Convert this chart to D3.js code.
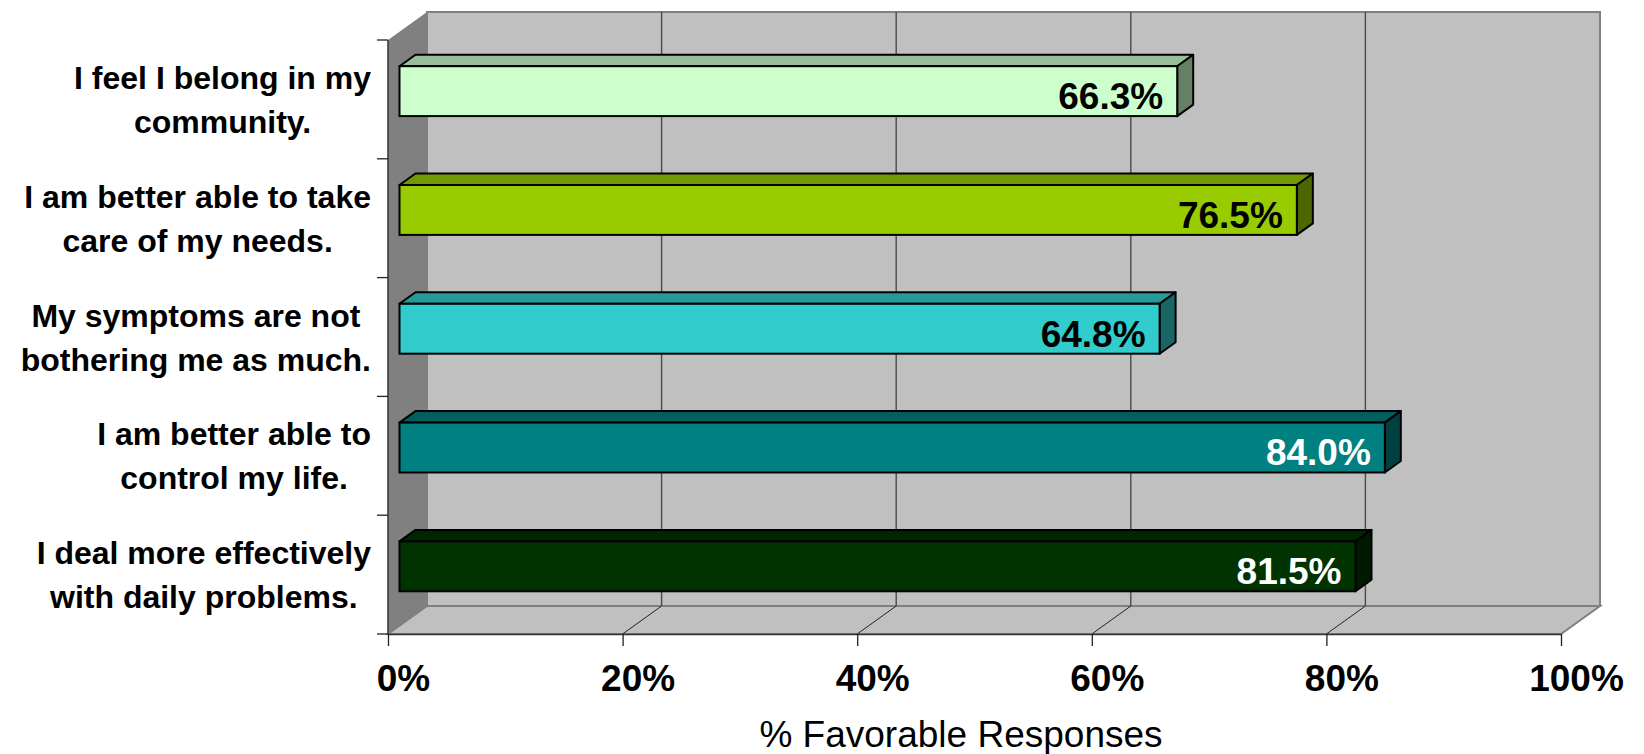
<!DOCTYPE html>
<html>
<head>
<meta charset="utf-8">
<script src="https://cdn.jsdelivr.net/npm/d3@7"></script>
<style>
  html, body { margin: 0; padding: 0; background: #ffffff; }
  svg { display: block; }
  text { font-family: "Liberation Sans", Arial, sans-serif; }
</style>
</head>
<body>
<svg id="chart" width="1644" height="754"></svg>
<script>
// Survey outcome statements (line breaks mark where the label wraps)
const categories = [
  "I feel I belong in my\ncommunity.",
  "I am better able to take\ncare of my needs.",
  "My symptoms are not\nbothering me as much.",
  "I am better able to\ncontrol my life.",
  "I deal more effectively\nwith daily problems."
];
// Share of favorable responses per statement
const values = [0.663, 0.765, 0.648, 0.840, 0.815];
const barColors = ["#CCFFCC", "#99CC00", "#33CCCC", "#008080", "#003300"];
const tickValues = [0, 0.2, 0.4, 0.6, 0.8, 1.0];
const axisTitle = "% Favorable Responses";

const svg = d3.select("#chart");

// Front plane of the 3-D plot box and its depth offset
const plot = { left: 388, right: 1561, top: 40, bottom: 634 };
const depth = { dx: 39, dy: -28 };
const barDepthStart = 0.295, barDepthEnd = 0.705;
const barFraction = 0.42;

const x = d3.scaleLinear().domain([0, 1]).range([plot.left, plot.right]);
const y = d3.scaleBand().domain(categories).range([plot.top, plot.bottom]).padding(0);

const shade = (c, k) => {
  const r = d3.rgb(c);
  return d3.rgb(r.r * k, r.g * k, r.b * k).formatHex();
};
const poly = pts => "M" + pts.map(p => p.join(",")).join("L") + "Z";

// Back wall
svg.append("rect")
  .attr("x", x(0) + depth.dx).attr("y", plot.top + depth.dy)
  .attr("width", x(1) - x(0)).attr("height", plot.bottom - plot.top)
  .attr("fill", "#C0C0C0").attr("stroke", "#808080").attr("stroke-width", 2);

// Side wall
svg.append("path")
  .attr("d", poly([
    [x(0), plot.top], [x(0) + depth.dx, plot.top + depth.dy],
    [x(0) + depth.dx, plot.bottom + depth.dy], [x(0), plot.bottom]
  ]))
  .attr("fill", "#808080");

// Floor
svg.append("path")
  .attr("d", poly([
    [x(0), plot.bottom], [x(0) + depth.dx, plot.bottom + depth.dy],
    [x(1) + depth.dx, plot.bottom + depth.dy], [x(1), plot.bottom]
  ]))
  .attr("fill", "#C0C0C0").attr("stroke", "#808080").attr("stroke-width", 2);

// Gridlines on the back wall and across the floor
const inner = tickValues.filter(t => t > 0 && t < 1);
svg.append("g").selectAll("line").data(inner).join("line")
  .attr("x1", d => x(d) + depth.dx).attr("x2", d => x(d) + depth.dx)
  .attr("y1", plot.top + depth.dy).attr("y2", plot.bottom + depth.dy)
  .attr("stroke", "#4a4a4a").attr("stroke-width", 1.4);
svg.append("g").selectAll("line").data(inner).join("line")
  .attr("x1", d => x(d)).attr("x2", d => x(d) + depth.dx)
  .attr("y1", plot.bottom).attr("y2", plot.bottom + depth.dy)
  .attr("stroke", "#222").attr("stroke-width", 1);

// Category axis: line and ticks at band boundaries
svg.append("line")
  .attr("x1", plot.left).attr("x2", plot.left)
  .attr("y1", plot.top).attr("y2", plot.bottom)
  .attr("stroke", "#333").attr("stroke-width", 1.5);
const bounds = categories.map(c => y(c)).concat([plot.bottom]);
svg.append("g").selectAll("line").data(bounds).join("line")
  .attr("x1", plot.left - 11).attr("x2", plot.left)
  .attr("y1", d => d).attr("y2", d => d)
  .attr("stroke", "#222").attr("stroke-width", 1.3);

// Value axis along the front edge of the floor
const xAxis = d3.axisBottom(x)
  .tickValues(tickValues)
  .tickFormat(d3.format(".0%"))
  .tickSize(12)
  .tickSizeOuter(0);
const gx = svg.append("g").attr("transform", `translate(0,${plot.bottom})`).call(xAxis);
gx.select(".domain").attr("stroke", "#333").attr("stroke-width", 1.5);
gx.selectAll(".tick line").attr("stroke", "#222").attr("stroke-width", 1.3);
gx.selectAll(".tick text")
  .attr("x", 15).attr("y", 57).attr("dy", null)
  .attr("font-size", 37).attr("font-weight", "bold")
  .attr("fill", "#000")
  .style("font-family", '"Liberation Sans", Arial, sans-serif');

// Axis title
svg.append("text")
  .attr("x", 961).attr("y", 747)
  .attr("text-anchor", "middle")
  .attr("font-size", 37)
  .attr("fill", "#000")
  .text(axisTitle);

// 3-D bars
const bh = y.bandwidth() * barFraction;
const ox = depth.dx * barDepthStart, oy = depth.dy * barDepthStart;
const bdx = depth.dx * (barDepthEnd - barDepthStart), bdy = depth.dy * (barDepthEnd - barDepthStart);

const bars = svg.append("g").selectAll("g")
  .data(categories.map((c, i) => ({ c, v: values[i], color: barColors[i] })))
  .join("g");

bars.each(function (d) {
  const g = d3.select(this);
  const x0 = x(0) + ox, x1 = x(d.v) + ox;
  const y0 = y(d.c) + (y.bandwidth() - bh) / 2 + oy, y1 = y0 + bh;
  // top face
  g.append("path")
    .attr("d", poly([[x0, y0], [x0 + bdx, y0 + bdy], [x1 + bdx, y0 + bdy], [x1, y0]]))
    .attr("fill", shade(d.color, 0.75)).attr("stroke", "#000").attr("stroke-width", 2)
    .attr("stroke-linejoin", "round");
  // end face
  g.append("path")
    .attr("d", poly([[x1, y0], [x1 + bdx, y0 + bdy], [x1 + bdx, y1 + bdy], [x1, y1]]))
    .attr("fill", shade(d.color, 0.5)).attr("stroke", "#000").attr("stroke-width", 2)
    .attr("stroke-linejoin", "round");
  // front face
  g.append("rect")
    .attr("x", x0).attr("y", y0).attr("width", x1 - x0).attr("height", bh)
    .attr("fill", d.color).attr("stroke", "#000").attr("stroke-width", 2);
  // value label
  g.append("text")
    .attr("x", x1 - 14).attr("y", y1 - 7)
    .attr("text-anchor", "end")
    .attr("font-size", 37).attr("font-weight", "bold")
    .attr("fill", d3.hsl(d.color).l < 0.3 ? "#fff" : "#000")
    .text(d3.format(".1%")(d.v));
});

// Category labels: wrapped lines centered within a right-aligned block
const labelRight = 371, lineGap = 44;
categories.forEach(c => {
  const lines = c.split("\n");
  const cy = y(c) + y.bandwidth() / 2;
  const g = svg.append("g");
  const texts = lines.map((ln, k) => g.append("text")
    .attr("y", cy - (lines.length - 1) * lineGap / 2 + k * lineGap + 11.5)
    .attr("font-size", 32).attr("font-weight", "bold").attr("fill", "#000")
    .attr("text-anchor", "middle")
    .text(ln));
  const w = d3.max(texts, t => t.node().getComputedTextLength());
  texts.forEach(t => t.attr("x", labelRight - w / 2));
});
</script>
</body>
</html>
